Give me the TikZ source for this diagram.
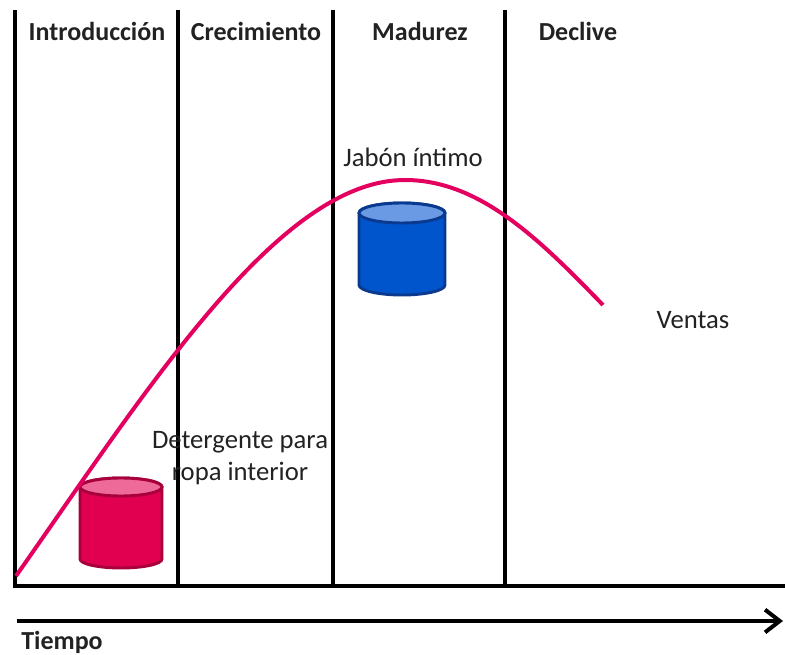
\documentclass[tikz,border=0pt]{standalone}
\usepackage{fontspec}
\setmainfont{Carlito}
\usetikzlibrary{arrows.meta}
\definecolor{curvecol}{HTML}{E3005F}
\definecolor{pinkbody}{HTML}{E0004F}
\definecolor{pinktop}{HTML}{EE6A98}
\definecolor{pinkedge}{HTML}{A8003C}
\definecolor{bluebody}{HTML}{0055CC}
\definecolor{bluetop}{HTML}{6A9AE4}
\definecolor{blueedge}{HTML}{0A3A90}
\definecolor{txt}{HTML}{222222}
\tikzset{
  divider/.style={line width=3pt, black},
  header/.style={font=\fontsize{19.5}{23}\selectfont\bfseries, text=txt, anchor=center},
  label/.style={font=\fontsize{20}{23.5}\selectfont, text=txt, align=center},
  salescurve/.style={line width=3pt, curvecol},
}
\begin{document}
\begin{tikzpicture}[x=0.75pt,y=-0.75pt]
\useasboundingbox (0,0) rectangle (785,655);
% dividers
\coordinate (v1t) at (15,10);  \coordinate (v1b) at (15,586);
\coordinate (v2t) at (178,10); \coordinate (v2b) at (178,586);
\coordinate (v3t) at (333,10); \coordinate (v3b) at (333,586);
\coordinate (v4t) at (505,10); \coordinate (v4b) at (505,586);
\coordinate (bl) at (13,586); \coordinate (br) at (785,586);
\draw[divider] (v1t) -- (v1b);
\draw[divider] (v2t) -- (v2b);
\draw[divider] (v3t) -- (v3b);
\draw[divider] (v4t) -- (v4b);
\draw[divider] (bl) -- (br);
% headers
\node[header] (h1) at (97,31) {Introducción};
\node[header] (h2) at (256,31) {Crecimiento};
\node[header] (h3) at (420,31) {Madurez};
\node[header] (h4) at (578,31) {Declive};
% cylinders
\draw[line width=2.2pt, pinkedge, fill=pinkbody] (80,487) -- (80,559) arc[start angle=180, end angle=0, x radius=41, y radius=9] -- (162,487) arc[start angle=0, end angle=-180, x radius=41, y radius=9] -- cycle;
\draw[line width=2.2pt, pinkedge, fill=pinktop] (121,487) ellipse[x radius=41, y radius=9];
\draw[line width=2.2pt, blueedge, fill=bluebody] (359,213) -- (359,285) arc[start angle=180, end angle=0, x radius=43, y radius=10] -- (445,213) arc[start angle=0, end angle=-180, x radius=43, y radius=10] -- cycle;
\draw[line width=2.2pt, blueedge, fill=bluetop] (402,213) ellipse[x radius=43, y radius=10];
% curve
\coordinate (c0) at (16,576);
\coordinate (cpk) at (405,180);
\coordinate (c1) at (603,305);
\draw[salescurve] (c0) .. controls (150,385) and (280,180) .. (cpk) .. controls (480,180) and (540,240) .. (c1);
% labels
\node[label] (jab) at (413,157) {Jabón íntimo};
\node[label] (det) at (240,458) {Detergente para\\ropa interior};
\node[label] (ven) at (693,320) {Ventas};
% time arrow
\coordinate (al) at (17,621);
\coordinate (ar) at (783,621);
\draw[line width=3pt, -{Straight Barb[length=11pt, width=17pt, line width=3pt]}] (al) -- (ar);
\node[header] (tiempo) at (62,642) {Tiempo};
\end{tikzpicture}
\end{document}
